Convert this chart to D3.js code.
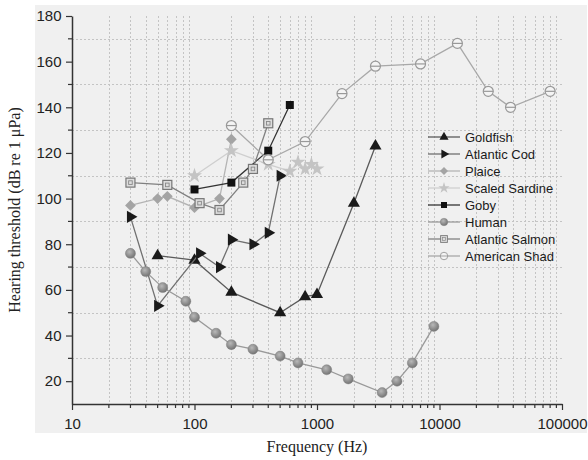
<!DOCTYPE html>
<html>
<head>
<meta charset="utf-8">
<script src="https://cdn.jsdelivr.net/npm/d3@7"></script>
<style>
  body { margin: 0; background: #fff; }
  svg { display: block; }
</style>
</head>
<body>
<div id="chart"></div>
<script>
// values (frequency in Hz, threshold in dB re 1 µPa)
const goldfishF = [50, 100, 200, 500, 800, 1000, 2000, 3000];
const goldfishT = [75, 73, 59, 50, 57, 58, 98, 123];
const codF = [30, 50, 110, 160, 200, 300, 400, 500];
const codT = [92, 53, 76, 70, 82, 80, 85, 110];
const plaiceF = [30, 50, 60, 100, 160, 200];
const plaiceT = [97, 100, 101, 96, 100, 126];
const sardineF = [100, 200, 400, 600, 700, 800, 900, 1000];
const sardineT = [110, 121, 115, 112, 116, 113, 115, 113];
const gobyF = [100, 200, 400, 600];
const gobyT = [104, 107, 121, 141];
const humanF = [30, 40, 55, 85, 100, 150, 200, 300, 500, 700, 1200, 1800, 3400, 4500, 6000, 9000];
const humanT = [76, 68, 61, 55, 48, 41, 36, 34, 31, 28, 25, 21, 15, 20, 28, 44];
const salmonF = [30, 60, 110, 160, 250, 300, 400];
const salmonT = [107, 106, 98, 95, 107, 113, 133];
const shadF = [200, 400, 800, 1600, 3000, 7000, 14000, 25000, 38000, 80000];
const shadT = [132, 117, 125, 146, 158, 159, 168, 147, 140, 147];

const yTicks = [20, 40, 60, 80, 100, 120, 140, 160, 180];
const xTicks = [10, 100, 1000, 10000, 100000];

const series = [
  { name: 'Goldfish',       f: goldfishF, t: goldfishT, line: '#5a5a5a', marker: 'triUp' },
  { name: 'Atlantic Cod',   f: codF,      t: codT,      line: '#707070', marker: 'triRight' },
  { name: 'Plaice',         f: plaiceF,   t: plaiceT,   line: '#b4b4b4', marker: 'diamond' },
  { name: 'Scaled Sardine', f: sardineF,  t: sardineT,  line: '#cfcfcf', marker: 'star' },
  { name: 'Goby',           f: gobyF,     t: gobyT,     line: '#333', marker: 'square' },
  { name: 'Human',          f: humanF,    t: humanT,    line: '#999', marker: 'ball' },
  { name: 'Atlantic Salmon', f: salmonF,  t: salmonT,   line: '#808080', marker: 'boxdot' },
  { name: 'American Shad',  f: shadF,     t: shadT,     line: '#a8a8a8', marker: 'ring' }
];

const W = 588, H = 460;
const svg = d3.select('#chart').append('svg').attr('width', W).attr('height', H);

const defs = svg.append('defs');
const grad = defs.append('radialGradient').attr('id', 'ball').attr('cx', '40%').attr('cy', '35%').attr('r', '65%');
grad.append('stop').attr('offset', '0%').attr('stop-color', '#b8b8b8');
grad.append('stop').attr('offset', '100%').attr('stop-color', '#747474');

// plot panel background
svg.append('rect').attr('x', 35).attr('y', 5).attr('width', 552).attr('height', 428).attr('fill', '#f0f0f0');

const x = d3.scaleLog().domain([10, 100000]).range([72, 562]);
const y = d3.scaleLinear().domain([10, 180]).range([404, 16]);

// minor positions for grid and ticks
const xMinor = [];
[10, 100, 1000, 10000].forEach(d => { for (let k = 2; k <= 9; k++) xMinor.push(d * k); });
const yMinor = d3.range(30, 180, 20);

const grid = svg.append('g').attr('stroke', '#c4c4c4').attr('stroke-width', 1).attr('stroke-dasharray', '2,2');
grid.selectAll('.gx').data(xMinor).join('line')
  .attr('x1', d => Math.round(x(d)) + 0.5).attr('x2', d => Math.round(x(d)) + 0.5)
  .attr('y1', y(180)).attr('y2', y(10));
grid.selectAll('.gy').data(yMinor).join('line')
  .attr('x1', x(10)).attr('x2', x(100000))
  .attr('y1', d => Math.round(y(d)) + 0.5).attr('y2', d => Math.round(y(d)) + 0.5);

// axes
const axisFont = 'Liberation Sans, Arial, sans-serif';
const gx = svg.append('g').attr('transform', `translate(0,${y(10)})`)
  .call(d3.axisBottom(x).tickValues(xTicks).tickFormat(d3.format('d')).tickSize(6).tickSizeOuter(0));
gx.append('g').selectAll('line').data(xMinor).join('line')
  .attr('x1', d => x(d)).attr('x2', d => x(d)).attr('y1', 0).attr('y2', 4);

const gy = svg.append('g').attr('transform', `translate(${x(10)},0)`)
  .call(d3.axisLeft(y).tickValues(yTicks).tickSize(6).tickSizeOuter(0));
gy.append('g').selectAll('line').data(yMinor).join('line')
  .attr('y1', d => y(d)).attr('y2', d => y(d)).attr('x1', 0).attr('x2', -4);

[gx, gy].forEach(g => {
  g.selectAll('path.domain').attr('stroke', '#333').attr('stroke-width', 1.5);
  g.selectAll('line').attr('stroke', '#333').attr('stroke-width', 1.2);
  g.selectAll('text').attr('fill', '#222').attr('font-size', '15px').attr('font-family', axisFont);
});
gx.selectAll('.tick text').attr('dy', '1.05em');
gy.selectAll('.tick text').attr('dx', '-0.1em');

// axis titles
svg.append('text').attr('x', 317).attr('y', 452).attr('text-anchor', 'middle')
  .attr('font-family', 'Liberation Serif, Times New Roman, serif').attr('font-size', '16px').attr('fill', '#222')
  .text('Frequency (Hz)');
svg.append('text').attr('transform', 'translate(20,210) rotate(-90)').attr('text-anchor', 'middle')
  .attr('font-family', 'Liberation Serif, Times New Roman, serif').attr('font-size', '16px').attr('fill', '#222')
  .text('Hearing threshold (dB re 1 μPa)');

// markers
function drawMarker(g, type) {
  switch (type) {
    case 'triUp':
      g.append('path').attr('d', d3.symbol(d3.symbolTriangle, 64)()).attr('fill', '#1a1a1a');
      break;
    case 'triRight':
      g.append('path').attr('d', d3.symbol(d3.symbolTriangle, 64)()).attr('transform', 'rotate(90)').attr('fill', '#1a1a1a');
      break;
    case 'diamond':
      g.append('path').attr('d', d3.symbol(d3.symbolSquare, 58)()).attr('transform', 'rotate(45)').attr('fill', '#a4a4a4');
      break;
    case 'star':
      g.append('path').attr('d', d3.symbol(d3.symbolStar, 70)()).attr('fill', '#c4c4c4');
      break;
    case 'square':
      g.append('path').attr('d', d3.symbol(d3.symbolSquare, 64)()).attr('fill', '#111');
      break;
    case 'ball':
      g.append('circle').attr('r', 5).attr('fill', 'url(#ball)').attr('stroke', '#808080').attr('stroke-width', 0.5);
      break;
    case 'boxdot':
      g.append('rect').attr('x', -4.5).attr('y', -4.5).attr('width', 9).attr('height', 9)
        .attr('fill', '#ddd').attr('stroke', '#777').attr('stroke-width', 1.2);
      g.append('rect').attr('x', -1.8).attr('y', -1.8).attr('width', 3.6).attr('height', 3.6)
        .attr('fill', 'none').attr('stroke', '#888').attr('stroke-width', 0.9);
      break;
    case 'ring':
      g.append('circle').attr('r', 5).attr('fill', '#f4f4f4').attr('stroke', '#999').attr('stroke-width', 1.2);
      g.append('line').attr('x1', -5).attr('x2', 5).attr('stroke', '#999').attr('stroke-width', 1.2);
      break;
  }
}

const line = d3.line().x(d => x(d[0])).y(d => y(d[1]));

series.forEach(s => {
  const pts = s.f.map((f, i) => [f, s.t[i]]);
  const g = svg.append('g');
  g.append('path').datum(pts).attr('d', line).attr('fill', 'none').attr('stroke', s.line).attr('stroke-width', 1.3);
  g.selectAll('g.pt').data(pts).join('g').attr('class', 'pt')
    .attr('transform', d => `translate(${x(d[0])},${y(d[1])})`)
    .each(function () { drawMarker(d3.select(this), s.marker); });
});

// legend
const leg = svg.append('g').attr('transform', 'translate(428,137)');
series.forEach((s, i) => {
  const r = leg.append('g').attr('transform', `translate(0,${i * 17})`);
  r.append('line').attr('x1', 0).attr('x2', 32).attr('stroke', s.line).attr('stroke-width', 1.3);
  const m = r.append('g').attr('transform', 'translate(16,0) scale(0.75)');
  drawMarker(m, s.marker);
  r.append('text').attr('x', 37).attr('y', 0).attr('dy', '0.36em')
    .attr('font-family', axisFont).attr('font-size', '13px').attr('fill', '#1a1a1a')
    .text(s.name);
});
</script>
</body>
</html>
